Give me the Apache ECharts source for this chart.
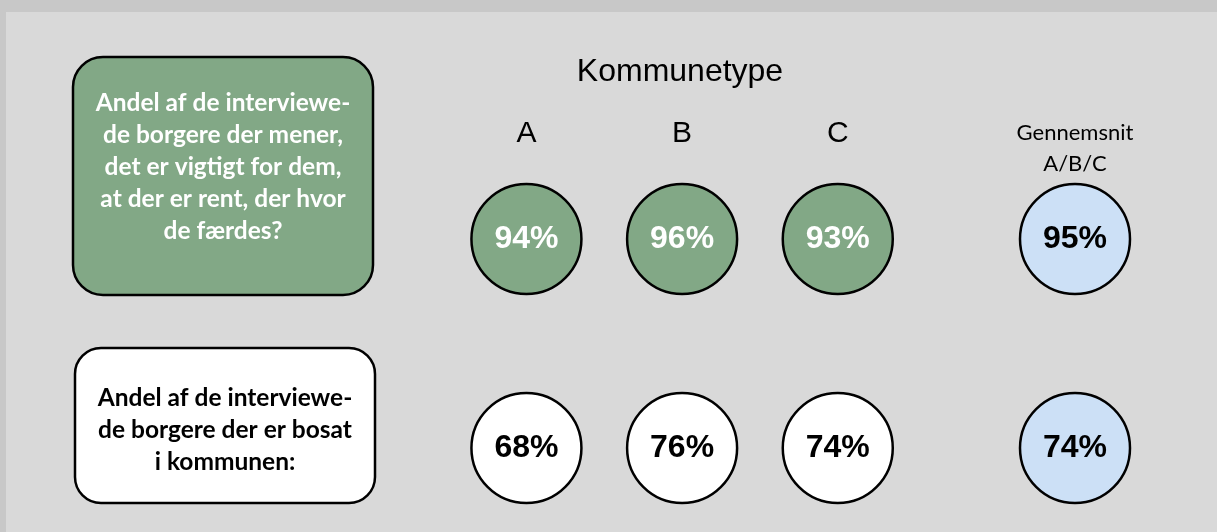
<!DOCTYPE html>
<html>
<head>
<meta charset="utf-8">
<script src="https://cdn.jsdelivr.net/npm/echarts@6/dist/echarts.min.js"></script>
<style>
html,body{margin:0;padding:0;background:#d9d9d9;}
#chart{width:1217px;height:532px;}
</style>
</head>
<body>
<div id="chart"></div>
<script>
// ---- data ----
const title = 'Kommunetype';
const columns = ['A', 'B', 'C'];
const avgColumn = ['Gennemsnit\nA/B/C'];
const rows = ['vigtigt', 'bosat'];
const questions = [
  'Andel af de interviewe-\nde borgere der mener,\ndet er vigtigt for dem,\nat der er rent, der hvor\nde færdes?',
  'Andel af de interviewe-\nde borgere der er bosat\ni kommunen:'
];
const importantClean = [94, 96, 93];
const residents = [68, 76, 74];
const averages = [95, 74];

// ---- styles ----
const GREEN = '#82a886';
const WHITE = '#ffffff';
const BLUE = '#cce0f6';
const rowFill = [GREEN, WHITE];
const rowText = ['#ffffff', '#000000'];
const boxFont = 'Lato, "Open Sans", sans-serif';
const numFont = '"Liberation Sans", Arial, Helvetica, sans-serif';

const rowValues = [importantClean, residents];
const mainData = [];
rowValues.forEach((vals, r) => {
  vals.forEach((v, c) => {
    mainData.push({
      value: [c, r, v],
      itemStyle: { color: rowFill[r] },
      label: { color: rowText[r] }
    });
  });
});
const avgData = averages.map((v, r) => ({ value: [0, r, v] }));

const chart = echarts.init(document.getElementById('chart'), null, { renderer: 'canvas' });

const boxes = [
  { x: 73, y: 57, w: 300, h: 238, r: 30, textY: 167 },
  { x: 75, y: 348, w: 300, h: 155, r: 26, textY: 430 }
];

const graphic = [
  { type: 'rect', silent: true, z: -10, shape: { x: 0, y: 0, width: 1217, height: 12 }, style: { fill: '#c8c8c8' } },
  { type: 'rect', silent: true, z: -10, shape: { x: 0, y: 0, width: 6, height: 532 }, style: { fill: '#c8c8c8' } }
];
boxes.forEach((b, i) => {
  graphic.push({
    type: 'rect',
    shape: { x: b.x, y: b.y, width: b.w, height: b.h, r: b.r },
    style: { fill: rowFill[i], stroke: '#000', lineWidth: 2.5 }
  });
  graphic.push({
    type: 'text',
    x: b.x + b.w / 2,
    y: b.textY,
    style: {
      text: questions[i],
      fill: rowText[i],
      font: 'bold 24.5px ' + boxFont,
      lineHeight: 32,
      align: 'center',
      verticalAlign: 'middle'
    }
  });
});

const option = {
  backgroundColor: '#d9d9d9',
  animation: false,
  title: {
    text: title,
    left: 680,
    textAlign: 'center',
    top: 56,
    padding: 0,
    textStyle: { fontFamily: numFont, fontSize: 32, fontWeight: 'normal', color: '#000' }
  },
  grid: [
    { left: 448.6, width: 467, top: 239, height: 209 },
    { left: 1000, width: 150, top: 239, height: 209 }
  ],
  xAxis: [
    {
      gridIndex: 0, type: 'category', data: columns, position: 'top',
      axisLine: { show: false }, axisTick: { show: false }, splitLine: { show: false },
      axisLabel: { margin: 90, fontFamily: numFont, fontSize: 30, color: '#000' }
    },
    {
      gridIndex: 1, type: 'category', data: avgColumn, position: 'top',
      axisLine: { show: false }, axisTick: { show: false }, splitLine: { show: false },
      axisLabel: { margin: 60, fontFamily: boxFont, fontSize: 22, lineHeight: 31, color: '#000' }
    }
  ],
  yAxis: [
    { gridIndex: 0, type: 'category', data: rows, inverse: true, boundaryGap: false, show: false },
    { gridIndex: 1, type: 'category', data: rows, inverse: true, boundaryGap: false, show: false }
  ],
  series: [
    {
      type: 'scatter', xAxisIndex: 0, yAxisIndex: 0,
      symbol: 'circle', symbolSize: 110,
      itemStyle: { borderColor: '#000', borderWidth: 2.5, opacity: 1 },
      label: {
        show: true, position: 'inside',
        formatter: p => p.value[2] + '%',
        fontFamily: numFont, fontWeight: 'bold', fontSize: 32
      },
      emphasis: { disabled: true },
      data: mainData
    },
    {
      type: 'scatter', xAxisIndex: 1, yAxisIndex: 1,
      symbol: 'circle', symbolSize: 110,
      itemStyle: { color: BLUE, borderColor: '#000', borderWidth: 2.5, opacity: 1 },
      label: {
        show: true, position: 'inside', color: '#000',
        formatter: p => p.value[2] + '%',
        fontFamily: numFont, fontWeight: 'bold', fontSize: 32
      },
      emphasis: { disabled: true },
      data: avgData
    }
  ],
  graphic: graphic
};
chart.setOption(option);
</script>
</body>
</html>
